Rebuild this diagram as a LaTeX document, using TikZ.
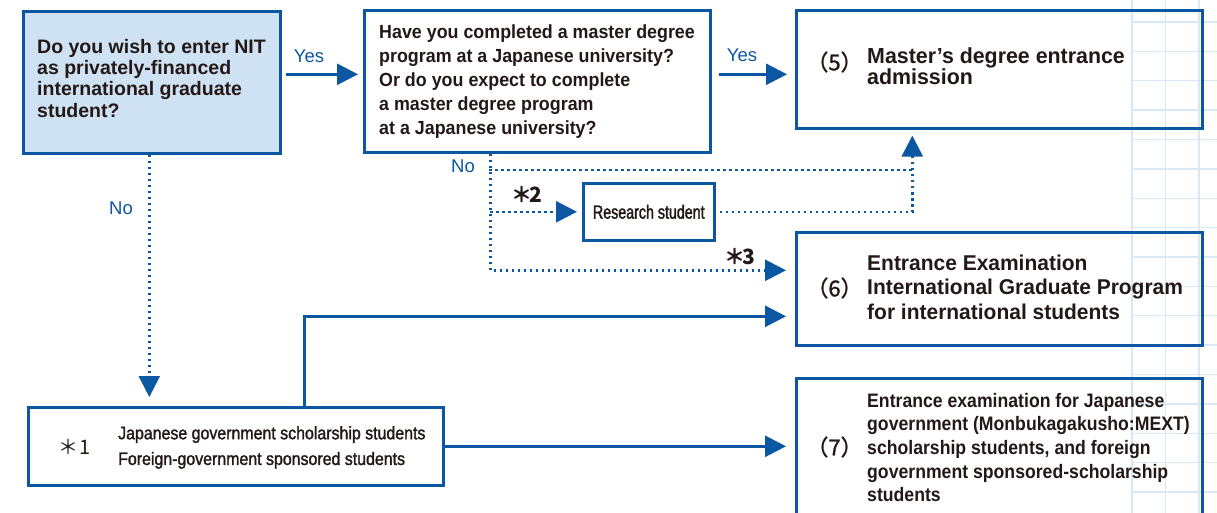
\documentclass[tikz,border=0pt]{standalone}
\usepackage{fontspec}
\setmainfont{Liberation Sans}
\newfontfamily\famA[FakeStretch=1.00]{Liberation Sans}
\newfontfamily\famB[FakeStretch=0.94]{Liberation Sans}
\newfontfamily\famC[FakeStretch=0.98]{Liberation Sans}
\newfontfamily\famG[FakeStretch=0.905]{Liberation Sans}
\newfontfamily\famS[FakeStretch=0.885,FakeBold=1.6]{Liberation Sans}
\newfontfamily\famR[FakeStretch=0.75,FakeBold=1.8]{Liberation Sans}
\newfontfamily\cjk{Noto Sans CJK JP}
\newfontfamily\cjkm[FakeBold=1.2]{Noto Sans CJK JP}
\usetikzlibrary{arrows.meta}
\definecolor{nblue}{HTML}{0B57A1}
\definecolor{nfill}{HTML}{CFE2F4}
\definecolor{ink}{HTML}{231815}
\definecolor{gridc}{HTML}{D9E8F6}
\tikzset{
  box/.style={draw=nblue, line width=2.6pt, inner sep=0pt, anchor=north west},
  txt/.style={inner sep=0pt, anchor=north west, align=left, text=ink},
  numlab/.style={inner sep=0pt, text=ink, font=\cjkm\fontsize{22}{22}\selectfont},
  asty/.style={inner sep=0pt, text=ink, font=\cjk\bfseries\fontsize{21}{21}\selectfont},
  lab/.style={inner sep=0pt, text=nblue, font=\famA\fontsize{18.5}{20}\selectfont},
  arr/.style={draw=nblue, line width=2.6pt, -{Triangle[length=21pt,width=21pt]}},
  dotline/.style={draw=nblue, line width=2.5pt, dash pattern=on 2.5pt off 3.5pt},
  dotarr/.style={dotline, -{Triangle[length=21pt,width=21pt]}},
  gridline/.style={draw=gridc, line width=1.3pt}
}
\begin{document}
\begin{tikzpicture}[x=1pt,y=-1pt]
\useasboundingbox (0,0) rectangle (1217,513);
% background grid
\foreach \x in {1132,1165.5,1199} \draw[gridline] (\x,0) -- (\x,513);
\foreach \k in {0,...,16} {
  \pgfmathsetmacro\yy{22+29.375*\k}
  \draw[gridline] (1132,\yy) -- (1217,\yy);
}
% boxes
\node[box, fill=nfill, minimum width=257pt, minimum height=142pt] (A) at (22,10) {};
\node[box, minimum width=346pt, minimum height=142pt] (B) at (363,9) {};
\node[box, minimum width=406pt, minimum height=118pt] (C) at (795,9) {};
\node[box, minimum width=131pt, minimum height=57pt, text=ink,
      font=\famR\fontsize{19}{19}\selectfont] (R) at (582,182) {Research student};
\node[box, minimum width=406pt, minimum height=113pt] (E6) at (795,231) {};
\node[box, minimum width=406pt, minimum height=140pt] (E7) at (795,377) {};
\node[box, minimum width=415pt, minimum height=78pt] (S) at (27,406) {};
% texts
\node[txt, font=\famA\bfseries\fontsize{19.5}{21.3}\selectfont] (tA) at (37,39)
  {Do you wish to enter NIT\\as privately-financed\\international graduate\\student?};
\node[txt, font=\famB\bfseries\fontsize{19}{24}\selectfont] (tB) at (379,25)
  {Have you completed a master degree\\program at a Japanese university?\\Or do you expect to complete\\a master degree program\\at a Japanese university?};
\node[txt, font=\famC\bfseries\fontsize{21.8}{21}\selectfont] (tC) at (867,48)
  {Master’s degree entrance\\admission};
\node[txt, font=\famC\bfseries\fontsize{21.4}{24.2}\selectfont] (t6) at (867,255)
  {Entrance Examination\\International Graduate Program\\for international students};
\node[txt, font=\famG\bfseries\fontsize{19.5}{23.6}\selectfont] (t7) at (867,393)
  {Entrance examination for Japanese\\government (Monbukagakusho:MEXT)\\scholarship students, and foreign\\government sponsored-scholarship\\students};
\node[txt, font=\famS\fontsize{18}{25.7}\selectfont] (tS) at (118,426)
  {Japanese government scholarship students\\Foreign-government sponsored students};
% numbers and marks
\node[numlab] (n5) at (834.5,62) {（5）};
\node[numlab] (n6) at (834.5,288) {（6）};
\node[numlab] (n7) at (834.5,447) {（7）};
\node[inner sep=0pt, text=ink, font=\cjk\fontsize{20}{20}\selectfont] (a1) at (75,447) {＊\kern1pt 1};
\node[asty] (a2) at (527,195) {＊\kern-3pt 2};
\node[asty] (a3) at (740,257) {＊\kern-3pt 3};
% labels
\node[lab] (y1) at (309,56) {Yes};
\node[lab] (y2) at (742,55.5) {Yes};
\node[lab] (no1) at (121,208) {No};
\node[lab] (no2) at (463,166) {No};
% helper coordinates
\coordinate (nb) at ([xshift=-47pt]B.south);
\coordinate (cx) at ([xshift=-87pt]C.south);
\coordinate (j1) at (489,170);
% connectors
\draw[arr, shorten <=4pt, shorten >=5pt] ([yshift=8pt]A.east) -- ([yshift=8pt]A.east -| B.west);
\draw[arr, shorten <=7pt, shorten >=8pt] ([yshift=7pt]B.east) -- ([yshift=7pt]B.east -| C.west);
\draw[dotarr, shorten >=9pt] ([xshift=-2.5pt]A.south) -- ([xshift=-2.5pt]A.south |- S.north);
\draw[dotarr, shorten >=9pt] (nb) |- ([yshift=18.5pt]E6.west);
\draw[dotline] (j1) -- (j1 -| cx);
\draw[dotarr, shorten >=5pt] (nb |- R.west) -- (R.west);
\draw[dotarr, shorten <=4pt, shorten >=6pt] (R.east) -| (cx);
\draw[arr, shorten >=9pt] ([xshift=68.5pt]S.north) |- ([yshift=-27.5pt]E6.west);
\draw[arr, shorten >=9pt] (S.east) -- (S.east -| E7.west);
\end{tikzpicture}
\end{document}
